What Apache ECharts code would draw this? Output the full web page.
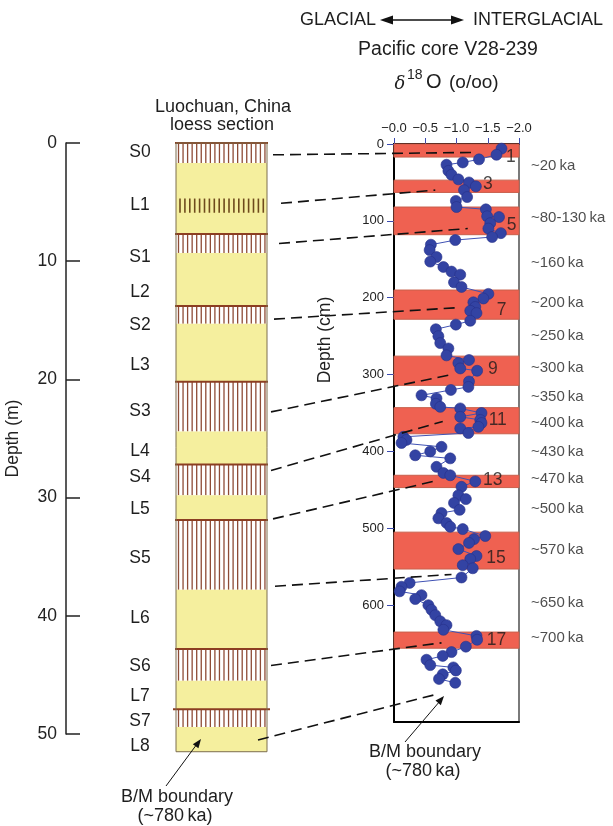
<!DOCTYPE html>
<html><head><meta charset="utf-8">
<script src="https://cdn.jsdelivr.net/npm/echarts@6/dist/echarts.min.js"></script>
<style>html,body{margin:0;padding:0;background:#fff}#c{width:613px;height:826px}</style>
</head><body><div id="c"></div>
<script>
const FONT = '"Liberation Sans", Arial, Helvetica, sans-serif';

// ---- Luochuan loess section (depth in m) ----
const layerNames   = ['S0','L1','S1','L2','S2','L3','S3','L4','S4','L5','S5','L6','S6','L7','S7','L8'];
const layerTops    = [0, 1.7, 7.7, 9.3, 13.8, 15.3, 20.2, 24.4, 27.2, 29.8, 31.9, 37.8, 42.8, 45.5, 47.9, 49.4];
const layerBottoms = [1.7, 7.7, 9.3, 13.8, 15.3, 20.2, 24.4, 27.2, 29.8, 31.9, 37.8, 42.8, 45.5, 47.9, 49.4, 51.5];
const layerLabelDepths = [0.8, 5.3, 9.7, 12.6, 15.4, 18.8, 22.7, 26.1, 28.3, 31.0, 35.1, 40.2, 44.3, 46.8, 48.9, 51.0];
const weakSoilBand = [4.7, 5.9];

// ---- Pacific core V28-239 (depth in cm, d18O in per mil) ----
const coreDepth = [6,14,20,24,27,35,40,46,50,55,60,69,74,82,85,94,95,103,110,116,121,125,131,138,147,153,160,166,170,180,186,
  195,201,206,212,217,220,230,235,241,250,259,266,275,281,285,292,295,309,316,320,327,331,338,342,344,350,355,359,363,368,370,376,
  381,385,389,394,400,405,409,420,428,431,439,446,457,462,467,476,480,487,493,498,501,510,514,519,527,536,540,548,552,564,
  571,576,582,587,592,600,606,613,621,626,632,640,645,654,661,666,671,678,681,685,690,696,701];
const coreD18O = [-1.72,-1.64,-1.36,-1.10,-0.84,-0.87,-0.92,-1.03,-1.20,-1.31,-1.12,-1.17,-0.99,-1.00,-1.47,-1.49,-1.68,-1.54,-1.51,-1.71,-1.57,-0.98,-0.59,-0.57,-0.68,-0.58,-0.79,-0.92,-1.06,-0.96,-1.08,
  -1.51,-1.43,-1.27,-1.30,-1.22,-1.32,-1.22,-0.99,-0.67,-0.71,-0.74,-0.87,-0.84,-1.20,-1.03,-1.06,-1.33,-1.20,-1.19,-0.91,-0.44,-0.68,-0.67,-0.74,-1.06,-1.40,-1.06,-1.38,-1.40,-1.35,-1.06,-1.19,
  -0.15,-0.20,-0.12,-0.76,-0.58,-0.34,-0.90,-0.68,-0.79,-0.90,-1.30,-1.08,-1.03,-1.15,-0.96,-1.05,-0.76,-0.71,-0.84,-0.90,-1.10,-1.46,-1.28,-1.20,-1.03,-1.32,-1.22,-1.10,-1.26,-1.08,
  -0.25,-0.12,-0.09,-0.44,-0.34,-0.55,-0.60,-0.66,-0.74,-0.84,-0.79,-1.32,-1.33,-1.15,-0.92,-0.78,-0.52,-0.58,-0.95,-0.99,-0.78,-0.72,-0.98];

// interglacial stages (red bands), depth in cm
const stageNumbers = ['1','3','5','7','9','11','13','15','17'];
const stageTops    = [0, 47, 82, 190, 276, 343, 431, 505, 635];
const stageBottoms = [17, 63, 118, 228, 314, 377, 447, 553, 656];
const stageLabelDepths = [16.5, 52, 105, 216, 293, 359, 437, 539, 646];
const stageLabelValues = [-1.87, -1.50, -1.88, -1.72, -1.58, -1.66, -1.58, -1.63, -1.64];

// ages at core depths
const ageLabels = ['~20\u2009ka','~80-130\u2009ka','~160\u2009ka','~200\u2009ka','~250\u2009ka','~300\u2009ka','~350\u2009ka','~400\u2009ka',
  '~430\u2009ka','~470\u2009ka','~500\u2009ka','~570\u2009ka','~650\u2009ka','~700\u2009ka'];
const ageDepths = [29, 96, 155, 207, 250, 291, 329, 363, 401, 436, 475, 528, 597, 643];

// correlation lines: loess depth (m) -> core depth (cm), core d18O
const connLoess = [1.0, 5.1, 8.5, 14.9, 22.75, 27.7, 31.8, 37.5, 44.2, 50.5];
const connCore  = [11, 60, 110, 213, 300, 361, 438, 560, 649, 717];
const connValue = [-1.24, -0.66, -1.18, -1.00, -0.92, -0.78, -0.68, -0.92, -0.76, -0.63];

// ---- layout constants ----
const COL_L = 176, COL_R = 267;
const connStartOffset = [6, 14, 12, 7, 4, 4, 6, 8, 4, -9];
const YELLOW = '#F5EF9E', HATCH = '#8E4B36', BOUND = '#8B3E22';
const BLUE = '#3343A3';

const chart = echarts.init(document.getElementById('c'), null, {renderer: 'canvas'});

function renderLayer(params, api) {
  const top = api.value(1), bot = api.value(2), soil = api.value(3);
  const y0 = api.coord([0, top])[1], y1 = api.coord([0, bot])[1];
  const ch = [{type: 'rect', shape: {x: COL_L, y: y0, width: COL_R - COL_L, height: y1 - y0},
    style: {fill: soil ? '#ffffff' : YELLOW}}];
  if (soil) {
    for (let x = COL_L + 2.5; x < COL_R - 1; x += 4.55) {
      ch.push({type: 'line', shape: {x1: x, y1: y0, x2: x, y2: y1}, style: {stroke: HATCH, lineWidth: 1.3}});
    }
    const ext = params.dataIndex === 14 ? 3 : 1;
    ch.push({type: 'line', shape: {x1: COL_L - ext, y1: y0, x2: COL_R + ext, y2: y0}, style: {stroke: BOUND, lineWidth: 2}});
  }
  return {type: 'group', children: ch};
}
function renderWeak(params, api) {
  const y0 = api.coord([0, api.value(1)])[1], y1 = api.coord([0, api.value(2)])[1];
  const ch = [];
  for (let x = COL_L + 4; x < COL_R - 3; x += 4.9) {
    ch.push({type: 'line', shape: {x1: x, y1: y0, x2: x, y2: y1}, style: {stroke: '#6E4A1C', lineWidth: 1.6}});
  }
  return {type: 'group', children: ch};
}
function renderOutline(params, api) {
  const y0 = api.coord([0, api.value(1)])[1], y1 = api.coord([0, api.value(2)])[1];
  return {type: 'rect', shape: {x: COL_L, y: y0, width: COL_R - COL_L, height: y1 - y0},
    style: {fill: null, stroke: '#7d6e4e', lineWidth: 1}};
}
function renderBand(params, api) {
  const p0 = api.coord([0, api.value(1)]), p1 = api.coord([-2, api.value(2)]);
  const x = Math.min(p0[0], p1[0]), w = Math.abs(p1[0] - p0[0]);
  return {type: 'rect', shape: {x: x, y: p0[1], width: w, height: p1[1] - p0[1]},
    style: {fill: '#EF6151', stroke: '#C9604C', lineWidth: 1}};
}

const option = {
  animation: false,
  textStyle: {fontFamily: FONT},
  grid: [
    {left: 66, top: 143, width: 201, height: 591},
    {left: 394, top: 144, width: 125, height: 578}
  ],
  xAxis: [
    {gridIndex: 0, type: 'value', min: 0, max: 1, show: false},
    {gridIndex: 1, type: 'value', position: 'top', min: -2, max: 0, interval: 0.5, inverse: true,
      axisLine: {onZero: false, lineStyle: {color: '#000', width: 2}},
      axisTick: {show: true, length: 6, lineStyle: {color: '#3B4BB0', width: 1}},
      axisLabel: {fontSize: 13, color: '#222', margin: 9, fontFamily: FONT,
        formatter: v => '\u2212' + Math.abs(v).toFixed(1)},
      splitLine: {show: false}},
    {gridIndex: 1, type: 'value', position: 'bottom', min: -2, max: 0, inverse: true,
      axisLine: {onZero: false, lineStyle: {color: '#000', width: 2}}, axisTick: {show: false}, axisLabel: {show: false},
      splitLine: {show: false}}
  ],
  yAxis: [
    {gridIndex: 0, type: 'value', position: 'left', min: 0, max: 50, interval: 10, inverse: true,
      name: 'Depth (m)', nameLocation: 'middle', nameGap: 44,
      nameTextStyle: {fontSize: 17.5, color: '#222', fontFamily: FONT},
      axisLine: {onZero: false, lineStyle: {color: '#222', width: 1.5}},
      axisTick: {inside: true, length: 14, lineStyle: {color: '#222', width: 1.5}},
      axisLabel: {fontSize: 17.5, color: '#222', margin: 9, fontFamily: FONT},
      splitLine: {show: false}},
    {gridIndex: 1, type: 'value', position: 'left', min: 0, max: 752, interval: 100, inverse: true,
      axisLine: {onZero: false, lineStyle: {color: '#000', width: 2}},
      axisTick: {show: true, length: 7, lineStyle: {color: '#3B4BB0', width: 1},
        customValues: [0,100,200,300,400,500,600,700]},
      axisLabel: {fontSize: 13, color: '#222', margin: 10, fontFamily: FONT, showMaxLabel: false,
        customValues: [0,100,200,300,400,500,600,700]},
      splitLine: {show: false}},
    {gridIndex: 1, type: 'value', position: 'right', min: 0, max: 752, inverse: true,
      axisLine: {onZero: false, lineStyle: {color: '#7a7a7a', width: 2}}, axisTick: {show: false}, axisLabel: {show: false},
      splitLine: {show: false}}
  ],
  series: [
    {type: 'custom', xAxisIndex: 0, yAxisIndex: 0, clip: false, renderItem: renderLayer,
      encode: {x: 0, y: 1},
      data: layerTops.map((t, i) => [0.5, t, layerBottoms[i], layerNames[i][0] === 'S' ? 1 : 0])},
    {type: 'custom', xAxisIndex: 0, yAxisIndex: 0, clip: false, renderItem: renderWeak,
      encode: {x: 0, y: 1}, data: [[0.5, weakSoilBand[0], weakSoilBand[1]]]},
    {type: 'custom', xAxisIndex: 0, yAxisIndex: 0, clip: false, renderItem: renderOutline,
      encode: {x: 0, y: 1}, data: [[0.5, layerTops[0], layerBottoms[layerBottoms.length - 1]]]},
    {type: 'custom', xAxisIndex: 1, yAxisIndex: 1, clip: false, renderItem: renderBand,
      encode: {x: 0, y: 1}, data: stageTops.map((t, i) => [-1, t, stageBottoms[i]])},
    {type: 'line', xAxisIndex: 1, yAxisIndex: 1, symbol: 'circle', symbolSize: 11, showSymbol: true,
      z: 5, lineStyle: {color: '#4052B4', width: 1},
      itemStyle: {color: BLUE, borderColor: '#27318A', borderWidth: 0.6},
      data: coreDepth.map((d, i) => [coreD18O[i], d])},
    {type: 'scatter', xAxisIndex: 1, yAxisIndex: 1, symbolSize: 0, z: 6,
      label: {show: true, position: 'inside', formatter: '{b}', fontSize: 17.5, color: '#1a1a1a', fontFamily: FONT},
      data: stageNumbers.map((s, i) => ({name: s, value: [stageLabelValues[i], stageLabelDepths[i]]}))},
    {type: 'scatter', xAxisIndex: 1, yAxisIndex: 1, symbolSize: 0, clip: false, z: 6,
      label: {show: true, position: 'right', distance: 12, formatter: '{b}', fontSize: 15, color: '#222', fontFamily: FONT},
      data: ageLabels.map((s, i) => ({name: s, value: [-2, ageDepths[i]]}))}
  ]
};
chart.setOption(option);

// ---- annotations ----
const loessY = d => chart.convertToPixel({yAxisIndex: 0}, d);
const corePx = (v, d) => chart.convertToPixel({seriesIndex: 4}, [v, d]);

function txt(x, y, s, size, opt) {
  opt = opt || {};
  return {type: 'text', x: x, y: y, rotation: opt.rotation || 0, z: 50,
    style: {text: s, fontSize: size, fontFamily: opt.family || FONT, fontStyle: opt.style || 'normal',
      fill: '#1e1e1e', align: opt.align || 'center', verticalAlign: 'middle'}};
}
function arrowHead(x1, y1, x2, y2, len, half) {
  const a = Math.atan2(y2 - y1, x2 - x1);
  const bx = x2 - len * Math.cos(a), by = y2 - len * Math.sin(a);
  const nx = -Math.sin(a) * half, ny = Math.cos(a) * half;
  return {type: 'polygon', z: 50, shape: {points: [[x2, y2], [bx + nx, by + ny], [bx - nx, by - ny]]},
    style: {fill: '#111'}};
}

const g = [];
// correlation dashed lines
for (let i = 0; i < connLoess.length; i++) {
  const p = corePx(connValue[i], connCore[i]);
  g.push({type: 'line', z: 40, shape: {x1: COL_R + connStartOffset[i], y1: loessY(connLoess[i]), x2: p[0], y2: p[1]},
    style: {stroke: '#111', lineWidth: 1.6, lineDash: [11, 6]}});
}
// layer labels
layerNames.forEach((n, i) => g.push(txt(140, loessY(layerLabelDepths[i]), n, 17.5)));

// headers
g.push(txt(376, 20, 'GLACIAL', 18, {align: 'right'}));
g.push(txt(473, 20, 'INTERGLACIAL', 18, {align: 'left'}));
g.push({type: 'line', z: 50, shape: {x1: 390, y1: 20, x2: 454, y2: 20}, style: {stroke: '#111', lineWidth: 1.6}});
g.push(arrowHead(454, 20, 380, 20, 13, 4.5));
g.push(arrowHead(390, 20, 464, 20, 13, 4.5));
g.push(txt(448, 50, 'Pacific core V28-239', 19.5));
g.push(txt(400, 84, '\u03B4', 18, {family: '"DejaVu Serif", "Liberation Serif", serif', style: 'italic'}));
g.push(txt(407, 75, '18', 14, {align: 'left'}));
g.push(txt(426, 82, 'O', 20, {align: 'left'}));
g.push(txt(449, 83, '(o/oo)', 19, {align: 'left'}));
g.push(txt(223, 107, 'Luochuan, China', 18));
g.push(txt(222, 125, 'loess section', 18));
g.push(txt(325, 340, 'Depth (cm)', 17.5, {rotation: Math.PI / 2}));

// B/M boundary annotations
g.push(txt(177, 797, 'B/M boundary', 18));
g.push(txt(175, 816, '(~780\u2009ka)', 18));
g.push({type: 'line', z: 50, shape: {x1: 166, y1: 786, x2: 197, y2: 744}, style: {stroke: '#111', lineWidth: 1}});
g.push(arrowHead(166, 786, 201, 739, 9, 3.5));
g.push(txt(425, 752, 'B/M boundary', 18));
g.push(txt(423, 771, '(~780\u2009ka)', 18));
g.push({type: 'line', z: 50, shape: {x1: 405, y1: 742, x2: 440, y2: 701}, style: {stroke: '#111', lineWidth: 1}});
g.push(arrowHead(405, 742, 444, 696, 9, 3.5));

chart.setOption({graphic: g});
</script>
</body></html>
